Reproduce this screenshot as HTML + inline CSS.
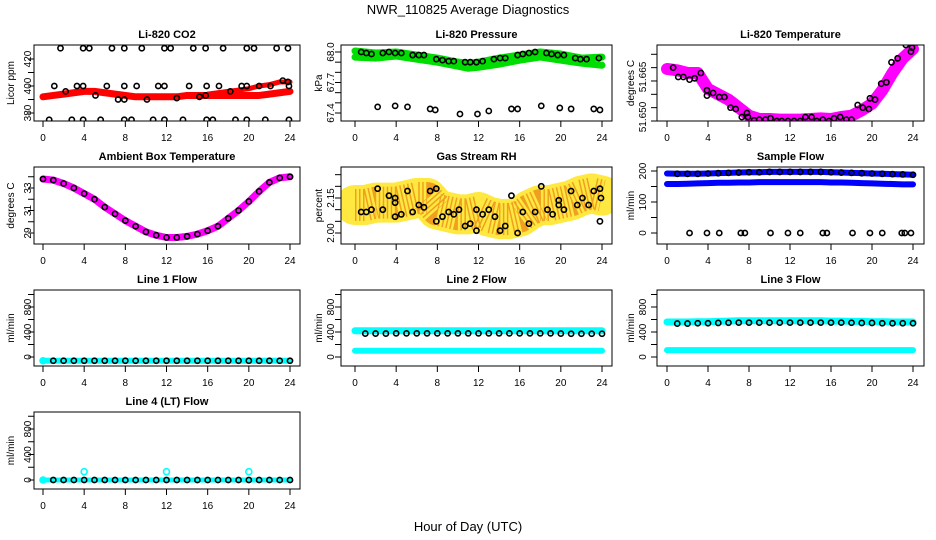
<!DOCTYPE html>
<html><head><meta charset="utf-8"><style>
html,body{margin:0;padding:0;background:#fff}
svg{display:block;font-family:"Liberation Sans",Arial,sans-serif}
</style></head><body>
<svg id="chart" width="936" height="540" viewBox="0 0 936 540">
<text x="468" y="14" text-anchor="middle" font-size="13">NWR_110825  Average Diagnostics</text>
<text x="468" y="531" text-anchor="middle" font-size="13">Hour of Day (UTC)</text>
</svg>
<script>
const hours = [0,1,2,3,4,5,6,7,8,9,10,11,12,13,14,15,16,17,18,19,20,21,22,23,24];
const xTicks = [0,4,8,12,16,20,24];
// CO2
const co2BandA = [392,393,394,395,396,396,395,394,393,392,392,392,392,392,393,393,393,393,393,393,393,393,394,395,396];
const co2BandBHours = [16,17,18,19,20,21,22,23,24];
const co2BandB = [394,395,396,397,398,400,401,403,403];
const co2CircH = [1.1,3.3,3.9,6.2,7.9,9.1,11.2,11.8,14.2,15.9,17.1,19.3,19.8,22.1,23.9,2.2,5.1,7.3,7.9,10.1,13,15.2,15.8,18.2,21,23.3,23.8,1.7,3.9,4.5,6.7,7.9,9.6,11.8,12.4,14.6,15.8,17.5,19.8,20.5,22.7,23.8,0.6,2.8,3.9,5.6,7.9,8.6,10.7,11.8,13.6,15.9,16.5,18.7,19.8,21.6,23.9];
const co2CircV = [400,400,400,400,400,400,400,400,400,400,400,400,400,400,400,396,393,390,390,390,391,392,393,396,400,404,403,428,428,428,428,428,428,428,428,428,428,428,428,428,428,428,375,375,375,375,375,375,375,375,375,375,375,375,375,375,375];
// Pressure
const presUpperH = [0,2,4,6,8,10,11,12,14,16,18,20,22,24];
const presUpper = [68.01,67.99,68.0,67.97,67.94,67.9,67.89,67.9,67.94,67.97,68.0,67.98,67.94,67.95];
const presLower = [67.95,67.94,67.96,67.93,67.9,67.86,67.84,67.85,67.88,67.92,67.95,67.92,67.89,67.87];
const presCircH = [0.6,1.1,1.6,2.7,3.3,3.9,4.5,5.6,6.2,6.7,7.9,8.5,9.1,9.6,10.7,11.2,11.8,12.4,13.5,14.1,14.6,15.8,16.3,16.9,17.5,18.6,19.1,19.7,20.3,21.4,21.9,22.5,23.7,2.2,3.9,5.1,7.3,7.8,10.2,11.9,13,15.2,15.8,18.1,19.9,21,23.2,23.8];
const presCircV = [68.0,67.99,67.98,67.99,68.0,67.99,67.99,67.97,67.97,67.97,67.93,67.92,67.91,67.91,67.9,67.9,67.9,67.91,67.93,67.94,67.94,67.97,67.98,67.99,68.0,67.99,67.98,67.97,67.97,67.94,67.93,67.93,67.94,67.46,67.47,67.46,67.44,67.43,67.39,67.39,67.42,67.44,67.44,67.47,67.45,67.44,67.44,67.43];
// Li-820 temperature (tick units)
const tempBand = [3.9,3.8,3.6,3.6,2.4,2.0,1.6,1.0,0.4,0.15,0.15,0.1,0.1,0.1,0.15,0.2,0.15,0.3,0.4,0.8,1.3,2.3,3.6,4.7,5.4];
const tempCircH = [0.6,1.1,1.6,2.2,2.7,3.3,3.9,3.9,4.5,5.1,5.6,6.2,6.7,7.3,7.8,7.9,8.5,9,9.6,10.1,10.7,11.2,11.8,12.4,13,13.5,14.1,14.6,15.2,15.8,16.3,16.9,17.5,18,18.6,19.1,19.7,19.8,20.3,20.9,21.4,21.9,22.5,23.3,23.8,23.9];
const tempCircV = [4.0,3.3,3.3,3.1,3.2,3.6,2.3,1.9,2.1,1.8,1.8,1.0,0.9,0.3,0.6,0.3,0.05,0.1,0.1,0.2,0,0,0,0,0,0.3,0.3,0,0.1,0,0.2,0.3,0.1,0.1,1.2,1.0,0.9,1.7,1.6,2.8,2.9,4.4,4.7,5.7,5.2,5.5];
const tempTickLabels = ["51.650","51.665"];
// Ambient box
const ambient = [33.8,33.7,33.4,33.0,32.5,32.0,31.3,30.7,30.1,29.6,29.1,28.8,28.6,28.6,28.7,28.9,29.2,29.6,30.3,31.0,31.8,32.7,33.5,33.9,34.0];
// Gas stream RH
const rhH = [0,1,2,3,4,5,6,7,8,9,10,11,12,13,14,15,16,17,18,19,20,21,22,23,24];
const rhTrend = [2.12,2.12,2.13,2.13,2.13,2.14,2.15,2.15,2.10,2.09,2.08,2.08,2.09,2.07,2.06,2.06,2.07,2.10,2.12,2.12,2.13,2.14,2.16,2.17,2.16];
const rhCircH = [0.6,1.1,1.6,2.2,2.7,3.3,3.9,3.9,3.9,4.5,5.1,5.6,6.2,6.7,7.3,7.9,7.9,8.5,9.1,9.6,10.1,10.7,11.2,11.8,11.8,12.4,13,13.6,14.1,14.6,15.2,15.8,16.3,16.9,17.5,18.1,18.7,19.2,19.8,19.8,20.3,21,21.6,22.1,22.7,23.2,23.8,23.9,23.8];
const rhCircV = [2.09,2.09,2.10,2.19,2.10,2.16,2.15,2.13,2.07,2.08,2.18,2.09,2.12,2.11,2.18,2.19,2.05,2.07,2.09,2.08,2.10,2.03,2.04,2.10,2.01,2.08,2.10,2.07,2.01,2.03,2.16,2.00,2.09,2.04,2.09,2.20,2.10,2.08,2.14,2.12,2.10,2.18,2.12,2.15,2.12,2.18,2.19,2.15,2.05];
// Sample flow
const flowUpper = [192,191,191,191,192,193,194,195,196,196,197,197,197,197,197,197,196,195,194,193,192,191,190,189,188];
const flowLower = [158,158,159,160,161,162,162,163,163,164,164,164,164,164,164,164,163,163,162,161,160,159,158,157,157];
const flowZeroH = [2.2,3.9,5.1,7.2,7.6,10.1,11.8,13,15.2,15.6,18.1,19.8,21,22.9,23.2,23.8];
const flowZeroV = [0,0,0,0,0,0,0,0,0,0,0,0,0,0,0,0];
// Line flows
const line1Cyan = [-60,-60,-60,-60,-60,-60,-60,-60,-60,-60,-60,-60,-60,-60,-60,-60,-60,-60,-60,-60,-60,-60,-60,-60,-60];
const line1Black = [-60,-60,-60,-60,-60,-60,-60,-60,-60,-60,-60,-60,-60,-60,-60,-60,-60,-60,-60,-60,-60,-60,-60,-60,-60];
const line2Upper = [420,420,420,420,420,420,420,420,420,420,420,420,420,420,420,420,420,420,420,420,420,420,420,420,420];
const line2Black = [375,375,375,375,378,378,378,378,378,378,378,378,378,378,378,378,378,378,378,378,375,372,372,372,372];
const line2Lower = [100,100,100,100,100,100,100,100,100,100,100,100,100,100,100,100,100,100,100,100,100,100,100,100,100];
const line3Upper = [560,560,560,565,565,570,575,580,580,580,580,580,580,580,580,580,575,575,570,570,565,565,560,560,560];
const line3Black = [535,535,535,540,540,545,548,550,550,550,550,550,550,550,550,550,550,550,548,545,545,540,540,540,540];
const line3Lower = [110,110,110,110,110,110,110,110,110,110,110,110,110,110,110,110,110,110,110,110,110,110,110,110,110];
const line4Cyan = [0,0,0,0,0,0,0,0,0,0,0,0,0,0,0,0,0,0,0,0,0,0,0,0,0];
const line4Black = [0,0,0,0,0,0,0,0,0,0,0,0,0,0,0,0,0,0,0,0,0,0,0,0,0];
const line4SpikeH = [4,12,20];
const line4SpikeV = [130,130,130];

const NS = "http://www.w3.org/2000/svg";
const svg = document.getElementById("chart");
const cols = [{L:34,R:300,x0:43,x24:290,yl:27,yt:10},{L:341,R:612,x0:355,x24:602,yl:330,yt:318},{L:657,R:924,x0:667,x24:913,yl:642,yt:630}];
const rows = [{T:45,B:121},{T:167,B:244},{T:290,B:366},{T:412,B:489}];
function mk(tag, attrs, parent){const e=document.createElementNS(NS,tag);for(const k in attrs)e.setAttribute(k,attrs[k]);(parent||svg).appendChild(e);return e;}

function panel(name, title, c, r, yA, yB, yTicks, yLabels, yTitle){
  const col=cols[c], row=rows[r];
  const g=mk("g",{});
  
  
  const xs=h=>col.x0+(col.x24-col.x0)*h/24;
  const ys=v=>yA[1]+(v-yA[0])*(yB[1]-yA[1])/(yB[0]-yA[0]);
  const clipId="clip-"+name;
  const cp=mk("clipPath",{id:clipId},g);
  mk("rect",{x:col.L,y:row.T,width:col.R-col.L,height:row.B-row.T},cp);
  const plot=mk("g",{"clip-path":"url(#"+clipId+")"},g);
  
  
  const t=mk("text",{x:(col.L+col.R)/2,y:row.T-7,"text-anchor":"middle","font-size":"11","font-weight":"bold"},g);
  t.textContent=title;
  
  
  const box=mk("rect",{x:col.L,y:row.T,width:col.R-col.L,height:row.B-row.T,fill:"none",stroke:"#000","stroke-width":"1"},g);
  
  
  const xa=mk("g",{},g);
  
  
  xTicks.forEach(h=>{
    mk("line",{x1:xs(h),x2:xs(h),y1:row.B,y2:row.B+6,stroke:"#000"},xa);
    const tl=mk("text",{x:xs(h),y:row.B+20,"text-anchor":"middle","font-size":"10"},xa);
    tl.textContent=h;
    
    
  });
  const ya=mk("g",{},g);
  
  
  yTicks.forEach(v=>mk("line",{x1:col.L-6,x2:col.L,y1:ys(v),y2:ys(v),stroke:"#000"},ya));
  yLabels.forEach(p=>{
    const yy=ys(p[0]);
    const tl=mk("text",{x:col.yl+4,y:yy,"text-anchor":"middle","font-size":"10",transform:"rotate(-90 "+(col.yl+4)+" "+yy+")"},ya);
    tl.textContent=p[1];
    
    
  });
  const ym=(row.T+row.B)/2;
  const yt=mk("text",{x:col.yt+4,y:ym,"text-anchor":"middle","font-size":"10",transform:"rotate(-90 "+(col.yt+4)+" "+ym+")"},g);
  yt.textContent=yTitle;
  
  
  return {plot,xs,ys};
}
function band(p, hs, vs, color, w, nm, extra){
  const pts=hs.map((h,i)=>p.xs(h)+","+p.ys(vs[i])).join(" ");
  const e=mk("polyline",Object.assign({points:pts,fill:"none",stroke:color,"stroke-width":w,"stroke-linejoin":"round","stroke-linecap":"round"},extra||{}),p.plot);
  
  
}
function circles(p, hs, vs, color, nm, r){
  hs.forEach((h,i)=>{
    const e=mk("circle",{cx:p.xs(h),cy:p.ys(vs[i]),r:r||2.6,fill:"none",stroke:color,"stroke-width":"1.6"},p.plot);
    
    
  });
}

// CO2
let p=panel("co2","Li-820 CO2",0,0,[380,113],[420,59],[380,390,400,410,420],[[380,"380"],[400,"400"],[420,"420"]],"Licor ppm");
band(p,hours,co2BandA,"#f00",7,"co2-band-main");
band(p,co2BandBHours,co2BandB,"#f00",5,"co2-band-upper");
circles(p,co2CircH,co2CircV,"#000","co2-point");
// Pressure
p=panel("pressure","Li-820 Pressure",1,0,[67.4,113],[68.0,52],[67.4,67.5,67.6,67.7,67.8,67.9,68.0],[[67.4,"67.4"],[67.7,"67.7"],[68.0,"68.0"]],"kPa");
band(p,presUpperH,presUpper,"#0d0",7,"pressure-band-upper");
band(p,presUpperH,presLower,"#0d0",7,"pressure-band-lower");
circles(p,presCircH,presCircV,"#000","pressure-point");
// Li-820 temperature
p=panel("li820-temp","Li-820 Temperature",2,0,[0,121],[5,54.3],[0,1,2,3,4,5],[[0.3,tempTickLabels[0]],[3.3,tempTickLabels[1]]],"degrees C");
band(p,hours,tempBand,"#f0f",12,"temperature-band");
circles(p,tempCircH,tempCircV,"#000","temperature-point");
// Ambient
p=panel("ambient","Ambient Box Temperature",0,1,[29,233],[33,188],[29,30,31,32,33,34],[[29,"29"],[31,"31"],[33,"33"]],"degrees C");
band(p,hours,ambient,"#f0f",7,"ambient-band");
circles(p,hours,ambient,"#000","ambient-point");
// RH
p=panel("rh","Gas Stream RH",1,1,[2.00,233],[2.15,198],[2.00,2.05,2.10,2.15,2.20,2.25],[[2.00,"2.00"],[2.15,"2.15"]],"percent");
band(p,rhH,rhTrend,"#ffe840",40,"rh-cloud");
band(p,rhH,rhTrend,"#f0a020",32,"rh-cloud-core",{"stroke-dasharray":"1.5 2.5","stroke-linecap":"butt"});
circles(p,rhCircH,rhCircV,"#000","rh-point");
// Sample flow
p=panel("sample-flow","Sample Flow",2,1,[0,233],[200,171],[0,50,100,150,200],[[0,"0"],[100,"100"],[200,"200"]],"ml/min");
band(p,hours,flowUpper,"#00f",6,"sample-flow-upper");
band(p,hours,flowLower,"#00f",6,"sample-flow-lower");
circles(p,hours.slice(1),flowUpper.slice(1),"#000","sample-flow-point");
circles(p,flowZeroH,flowZeroV,"#000","sample-flow-zero-point");
const fTicks=[0,200,400,600,800,1000], fLab=[[0,"0"],[400,"400"],[800,"800"]];
// Line 1
p=panel("line1","Line 1 Flow",0,2,[0,357],[800,307],fTicks,fLab,"ml/min");
band(p,hours,line1Cyan,"#0ff",6,"line1-band");
circles(p,[0],[line1Cyan[0]],"#0ff","line1-cyan-point",3);
circles(p,hours.slice(1),line1Black.slice(1),"#000","line1-point");
// Line 2
p=panel("line2","Line 2 Flow",1,2,[0,357],[800,307],fTicks,fLab,"ml/min");
band(p,hours,line2Upper,"#0ff",7,"line2-band-upper");
band(p,hours,line2Lower,"#0ff",6,"line2-band-lower");
circles(p,hours.slice(1),line2Black.slice(1),"#000","line2-point");
// Line 3
p=panel("line3","Line 3 Flow",2,2,[0,357],[800,307],fTicks,fLab,"ml/min");
band(p,hours,line3Upper,"#0ff",7,"line3-band-upper");
band(p,hours,line3Lower,"#0ff",6,"line3-band-lower");
circles(p,hours.slice(1),line3Black.slice(1),"#000","line3-point");
// Line 4
p=panel("line4","Line 4 (LT) Flow",0,3,[0,480],[800,429],fTicks,fLab,"ml/min");
band(p,hours,line4Cyan,"#0ff",5,"line4-band");
circles(p,[0],[line4Cyan[0]],"#0ff","line4-cyan-point",3);
circles(p,hours.slice(1),line4Black.slice(1),"#000","line4-point");
circles(p,line4SpikeH,line4SpikeV,"#0ff","line4-spike-point",3);
</script>
</body></html>
